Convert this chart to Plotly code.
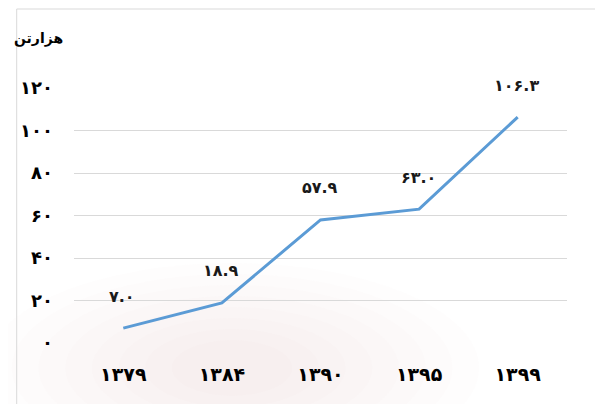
import plotly.graph_objects as go

categories = ["۱۳۷۹", "۱۳۸۴", "۱۳۹۰", "۱۳۹۵", "۱۳۹۹"]
values = [7.0, 18.9, 57.9, 63.0, 106.3]
value_labels = ["۷.۰", "۱۸.۹", "۵۷.۹", "۶۳.۰", "۱۰۶.۳"]
y_ticks = [0, 20, 40, 60, 80, 100, 120]
y_tick_labels = ["۰", "۲۰", "۴۰", "۶۰", "۸۰", "۱۰۰", "۱۲۰"]
y_axis_title = "هزارتن"

FONT = "DejaVu Sans"
PW, PH = 499, 255  # plot area size in px

fig = go.Figure()
fig.add_trace(go.Scatter(
    x=categories, y=values, mode="lines",
    line=dict(color="#5B9BD5", width=3),
    hoverinfo="skip", showlegend=False,
))

for c, v, t in zip(categories, values, value_labels):
    fig.add_annotation(
        x=c, y=v, text=t, showarrow=False, yshift=32, xshift=-1,
        font=dict(family=FONT, size=16, color="#1a1a1a", weight="bold"),
    )

shapes = []
# faint warm blur in background (concentric soft layers)
cx, cy = 160 / PW, -25 / PH
for i in range(8):
    rx = (250 - i * 27) / PW
    ry = (105 - i * 11) / PH
    shapes.append(dict(type="circle", xref="paper", yref="paper",
                       x0=cx - rx, x1=cx + rx, y0=cy - ry, y1=cy + ry,
                       fillcolor="#E6D8C2", opacity=0.04, line=dict(width=0),
                       layer="below"))
# outer frame
shapes.append(dict(type="rect", xref="paper", yref="paper",
                   x0=-58 / PW, x1=1.2, y0=-0.5, y1=1 + 79 / PH,
                   line=dict(color="#D9D9D9", width=1), fillcolor="rgba(0,0,0,0)",
                   layer="below"))

fig.update_layout(
    width=603, height=404,
    margin=dict(l=60, r=44, t=80, b=69),
    paper_bgcolor="white", plot_bgcolor="rgba(0,0,0,0)",
    shapes=shapes,
    xaxis=dict(
        type="category", range=[-0.5, 4.5], showgrid=False, zeroline=False,
        showline=False, ticks="", ticklabelstandoff=18,
        tickfont=dict(family=FONT, size=19, color="black", weight="bold"),
    ),
    yaxis=dict(
        range=[0, 120], tickvals=y_ticks, ticktext=y_tick_labels,
        showgrid=True, gridcolor="#D9D9D9", gridwidth=1,
        zeroline=False, showline=False, ticks="", ticklabelstandoff=20,
        tickfont=dict(family=FONT, size=18, color="black", weight="bold"),
    ),
    annotations=list(fig.layout.annotations) + [dict(
        text=y_axis_title, xref="paper", yref="paper",
        x=-63 / PW, y=1 + 50 / PH, xanchor="left", yanchor="middle",
        showarrow=False,
        font=dict(family=FONT, size=14, color="black", weight="bold"),
    )],
)

fig.write_html("out.html")
